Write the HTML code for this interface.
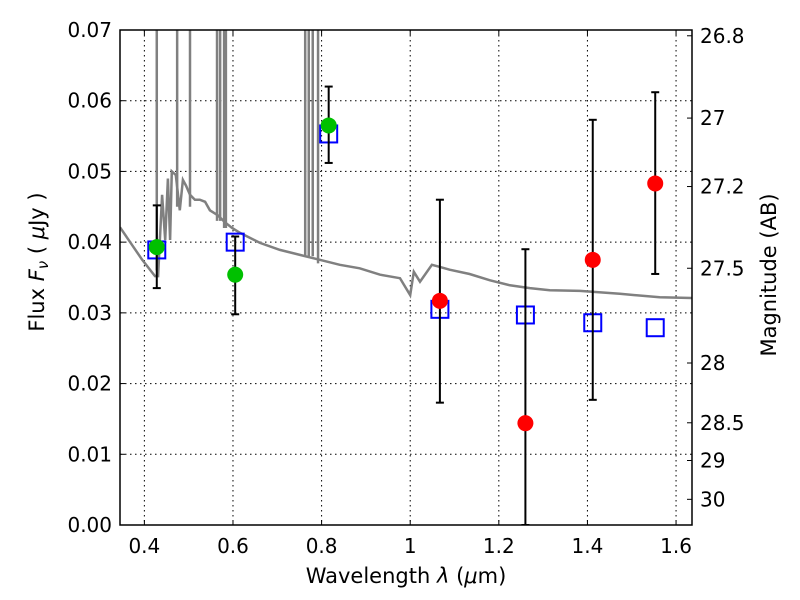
<!DOCTYPE html>
<html><head><meta charset="utf-8"><style>
body{margin:0;background:#fff;}
svg{display:block;font-family:"DejaVu Sans","Liberation Sans",sans-serif;}
</style></head><body>
<svg id="c" width="800" height="600" viewBox="0 0 800 600"></svg>
<script>
const xTicks=[0.4,0.6,0.8,1.0,1.2,1.4,1.6];
const xTickLabels=["0.4","0.6","0.8","1","1.2","1.4","1.6"];
const yTicks=[0,0.01,0.02,0.03,0.04,0.05,0.06,0.07];
const yTickLabels=["0.00","0.01","0.02","0.03","0.04","0.05","0.06","0.07"];
const magTicks=[26.8,27,27.2,27.5,28,28.5,29,30];
const magTickLabels=["26.8","27","27.2","27.5","28","28.5","29","30"];
const specWl=[0.345,0.395,0.424,0.431,0.440,0.447,0.453,0.458,0.462,0.471,0.480,0.487,0.494,0.503,0.514,0.525,0.537,0.548,0.566,0.582,0.598,0.616,0.661,0.706,0.751,0.796,0.841,0.886,0.932,0.977,1.0,1.008,1.022,1.049,1.067,1.089,1.134,1.180,1.225,1.270,1.315,1.383,1.473,1.563,1.635];
const specFlux=[0.0421,0.0375,0.0352,0.0352,0.0467,0.0403,0.049,0.0403,0.050,0.0495,0.0445,0.0488,0.048,0.0467,0.046,0.046,0.0457,0.0445,0.0438,0.0428,0.042,0.0413,0.0399,0.0389,0.0382,0.0375,0.0368,0.0363,0.0354,0.0349,0.0325,0.0358,0.0344,0.0368,0.0365,0.0361,0.0355,0.0346,0.0339,0.0335,0.0332,0.0331,0.0327,0.0322,0.0321];
const spikeWl=[0.428,0.474,0.503,0.564,0.571,0.580,0.584,0.763,0.771,0.780,0.792];
const spikeBase=[0.036,0.045,0.045,0.043,0.043,0.042,0.042,0.038,0.038,0.038,0.037];
const greenWl=[0.428,0.605,0.816];
const greenFlux=[0.0393,0.0354,0.0565];
const greenLo=[0.0335,0.0298,0.0512];
const greenHi=[0.0452,0.0408,0.0620];
const redWl=[1.067,1.26,1.412,1.553];
const redFlux=[0.0317,0.0144,0.0375,0.0483];
const redLo=[0.0173,0.0,0.0177,0.0355];
const redHi=[0.0460,0.0390,0.0573,0.0612];
const modelWl=[0.428,0.605,0.816,1.067,1.26,1.412,1.553];
const modelFlux=[0.0389,0.0400,0.0553,0.0305,0.0297,0.0286,0.0279];

const L=120,R=692,T=30,B=525,X0=0.345,X1=1.636,Y0=0,Y1=0.07;
const sx=v=>L+(v-X0)/(X1-X0)*(R-L);
const sy=v=>B-(v-Y0)/(Y1-Y0)*(B-T);
const svg=document.getElementById('c');
const NS='http://www.w3.org/2000/svg';
function mk(tag,attrs,parent){const e=document.createElementNS(NS,tag);for(const k in attrs)e.setAttribute(k,attrs[k]);(parent||svg).appendChild(e);return e;}
const clip=mk('clipPath',{id:'pc'});mk('rect',{x:L,y:T,width:R-L,height:B-T},clip);
xTicks.forEach((t,i)=>{
  const g=mk('line',{x1:sx(t),x2:sx(t),y1:T,y2:B,stroke:'#000','stroke-dasharray':'1.5,3.5','stroke-width':1});
  
  mk('line',{x1:sx(t),x2:sx(t),y1:B,y2:B-5,stroke:'#000'});mk('line',{x1:sx(t),x2:sx(t),y1:T,y2:T+5,stroke:'#000'});
  const tx=mk('text',{x:sx(t),y:B+28,'font-size':20,'text-anchor':'middle'});tx.textContent=xTickLabels[i];
  
});
yTicks.forEach((t,i)=>{
  if(t>Y0&&t<Y1){const g=mk('line',{x1:L,x2:R,y1:sy(t),y2:sy(t),stroke:'#000','stroke-dasharray':'1.5,3.5','stroke-width':1});
  }
  mk('line',{x1:L,x2:L+5,y1:sy(t),y2:sy(t),stroke:'#000'});
  const tx=mk('text',{x:L-8,y:sy(t)+7,'font-size':20,'text-anchor':'end'});tx.textContent=yTickLabels[i];
  
});
magTicks.forEach((m,i)=>{
  const f=Math.pow(10,(23.9-m)/2.5);const y=sy(f);
  mk('line',{x1:R-5,x2:R,y1:y,y2:y,stroke:'#000'});
  const tx=mk('text',{x:R+8,y:y+7,'font-size':20});tx.textContent=magTickLabels[i];
  
});
const gp=mk('g',{'clip-path':'url(#pc)'});
let d=specWl.map((w,i)=>(i?'L':'M')+sx(w).toFixed(1)+','+sy(specFlux[i]).toFixed(1)).join('');
const sp=mk('path',{d:d,fill:'none',stroke:'#808080','stroke-width':2.5},gp);

spikeWl.forEach((w,i)=>{const s=mk('line',{x1:sx(w),x2:sx(w),y1:sy(spikeBase[i]),y2:T-5,stroke:'#808080','stroke-width':2.5},gp);
  });
modelWl.forEach((w,i)=>{const r=mk('rect',{x:sx(w)-8.5,y:sy(modelFlux[i])-8.5,width:17,height:17,fill:'none',stroke:'#0000ff','stroke-width':2},gp);
  });
function pts(wl,fl,lo,hi,col,name){wl.forEach((w,i)=>{
  const x=sx(w);
  mk('line',{x1:x,x2:x,y1:sy(lo[i]),y2:sy(hi[i]),stroke:'#000','stroke-width':2},gp);
  mk('line',{x1:x-4,x2:x+4,y1:sy(lo[i]),y2:sy(lo[i]),stroke:'#000','stroke-width':2},gp);
  mk('line',{x1:x-4,x2:x+4,y1:sy(hi[i]),y2:sy(hi[i]),stroke:'#000','stroke-width':2},gp);
  const c=mk('circle',{cx:x,cy:sy(fl[i]),r:8,fill:col},gp);
  
});}
pts(greenWl,greenFlux,greenLo,greenHi,'#00c000','optical-flux-point');
pts(redWl,redFlux,redLo,redHi,'#ff0000','nir-flux-point');
const fr=mk('rect',{x:L,y:T,width:R-L,height:B-T,fill:'none',stroke:'#000','stroke-width':1.5});

const xt=mk('text',{x:406,y:583,'font-size':21,'text-anchor':'middle'});
xt.innerHTML='Wavelength  <tspan font-style="italic">λ</tspan> (<tspan font-style="italic">μ</tspan>m)';

const yt=mk('text',{x:0,y:0,'font-size':21,'text-anchor':'middle',transform:'translate(44,262) rotate(-90)'});
yt.innerHTML='Flux  <tspan font-style="italic">F</tspan><tspan font-style="italic" font-size="15" dy="4">ν</tspan><tspan dy="-4">  ( </tspan><tspan font-style="italic">μ</tspan>Jy )';

const rt=mk('text',{x:0,y:0,'font-size':21,'text-anchor':'middle',transform:'translate(776,275) rotate(-90)'});
rt.textContent='Magnitude (AB)';

</script>
</body></html>
